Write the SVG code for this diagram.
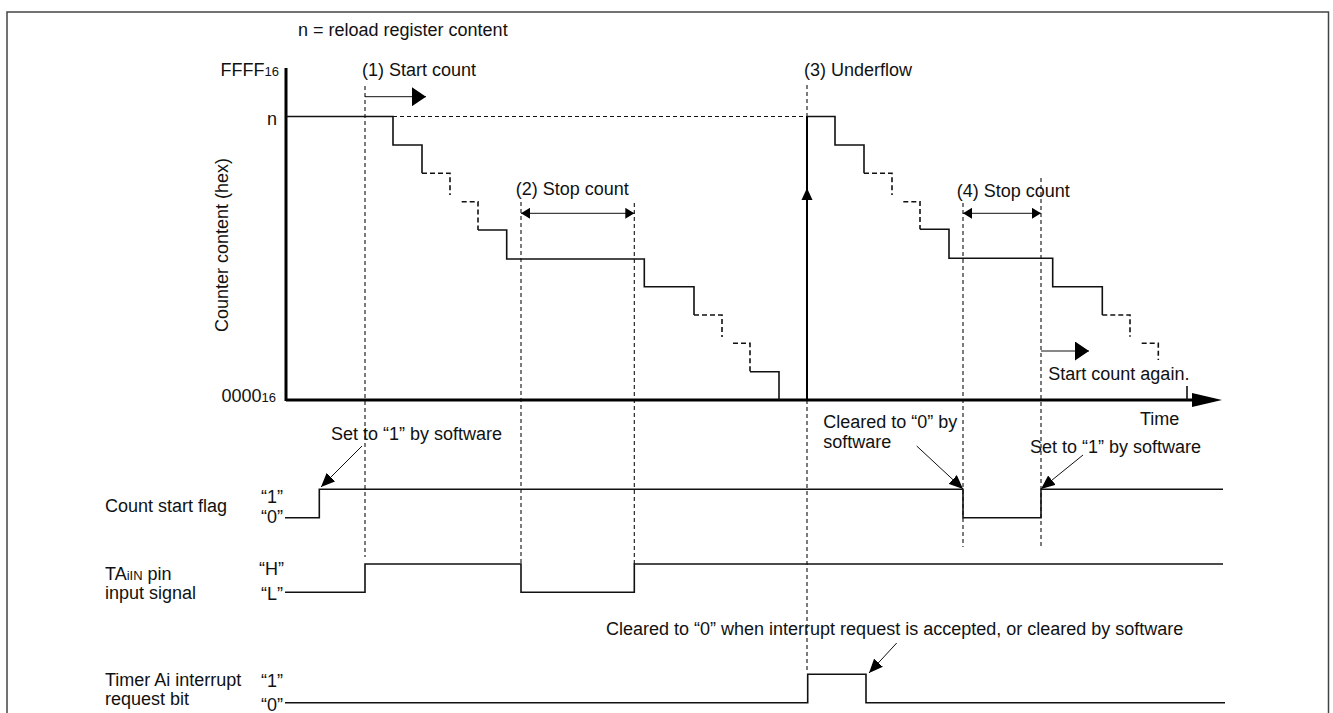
<svg xmlns="http://www.w3.org/2000/svg" width="1333" height="713" viewBox="0 0 1333 713">
<defs>
<style>
text{font-family:"Liberation Sans",Arial,sans-serif;font-size:18px;fill:#111}
.sub{font-size:13px}
.sig{fill:none;stroke:#111;stroke-width:1.6}
.dash{fill:none;stroke:#111;stroke-width:1.1;stroke-dasharray:4,3}
.sd{fill:none;stroke:#111;stroke-width:1.6;stroke-dasharray:5,3}
.thin{fill:none;stroke:#111;stroke-width:1}
.axis{fill:none;stroke:#000;stroke-width:3}
</style>
<marker id="ah" markerUnits="userSpaceOnUse" markerWidth="15" markerHeight="12" refX="14" refY="6" orient="auto">
<path d="M0,0 L14,6 L0,12 z" fill="#000"/>
</marker>
<marker id="big" markerUnits="userSpaceOnUse" markerWidth="15" markerHeight="19" refX="14" refY="9.5" orient="auto">
<path d="M0,0 L14,9.5 L0,19 z" fill="#000"/>
</marker>
<marker id="dh" markerUnits="userSpaceOnUse" markerWidth="10" markerHeight="11" refX="9" refY="5.5" orient="auto-start-reverse">
<path d="M0,0 L9,5.5 L0,11 z" fill="#000"/>
</marker>
</defs>
<rect x="7" y="12" width="1321.5" height="720" fill="#fff" stroke="#444" stroke-width="1.5"/>

<g id="guides">
<line class="dash" x1="365" y1="86" x2="365" y2="557"/>
<line class="dash" x1="521" y1="202" x2="521" y2="564"/>
<line class="dash" x1="634.3" y1="203" x2="634.3" y2="564"/>
<line class="dash" x1="807" y1="85" x2="807" y2="673"/>
<line class="dash" x1="963" y1="203" x2="963" y2="547"/>
<line class="dash" x1="1041" y1="178" x2="1041" y2="547"/>
<line class="dash" x1="393" y1="116.5" x2="807" y2="116.5"/>
</g>

<g id="axes">
<line class="axis" x1="286" y1="68" x2="286" y2="401"/>
<line class="axis" x1="286" y1="400" x2="1193" y2="400"/>
<polygon points="1192,393 1222,400 1192,407" fill="#000"/>
</g>

<g id="counter">
<path class="sig" d="M286,116.5 H393 V145 H422 V173.3"/>
<path class="sd" d="M422,173.3 H450 V195"/>
<path class="sd" d="M461.7,201.7 H478 V230"/>
<path class="sig" d="M478,230 H506.7 V259 H644.3 V286.7 H694 V315"/>
<path class="sd" d="M694,315 H722 V337"/>
<path class="sd" d="M733,343.3 H750 V371.7"/>
<path class="sig" d="M750,371.7 H779 V400"/>
<line x1="807" y1="400" x2="807" y2="116.5" stroke="#000" stroke-width="2"/>
<polygon points="807,188 801.5,200 812.5,200" fill="#000"/>
<path class="sig" d="M807,116.5 H835 V145 H864 V173.3"/>
<path class="sd" d="M864,173.3 H892 V195"/>
<path class="sd" d="M903.3,201.7 H920 V229.3"/>
<path class="sig" d="M920,229.3 H949 V258.3 H1052.7 V286.7 H1102.3 V315"/>
<path class="sd" d="M1102.3,315 H1130 V336.7"/>
<path class="sd" d="M1141.7,343.3 H1158.3 V360"/>
<line class="sig" x1="1187" y1="386" x2="1187" y2="400"/>
</g>

<g id="signals">
<path id="count-start-flag" class="sig" d="M285,517.7 H319.3 V489.3 H963 V517.7 H1041 V489.3 H1223"/>
<path id="taiin" class="sig" d="M285,592.3 H365 V564 H521 V592.3 H634.3 V564 H1223"/>
<path id="timer-irq" class="sig" d="M285,702.7 H807.7 V674.3 H866 V702.7 H1225"/>
</g>

<g id="connectors">
<line class="thin" x1="365" y1="96.7" x2="426" y2="96.7" stroke-width="2" marker-end="url(#big)"/>
<line class="thin" x1="1041" y1="351" x2="1089" y2="351" stroke-width="2" marker-end="url(#big)"/>
<line class="thin" x1="521" y1="213.3" x2="634.3" y2="213.3" stroke="#444" marker-start="url(#dh)" marker-end="url(#dh)"/>
<line class="thin" x1="963" y1="213.3" x2="1041" y2="213.3" stroke="#444" marker-start="url(#dh)" marker-end="url(#dh)"/>
<line class="thin" x1="362" y1="446" x2="321" y2="487" marker-end="url(#ah)"/>
<line class="thin" x1="916.7" y1="446" x2="963" y2="489" marker-end="url(#ah)"/>
<line class="thin" x1="1083" y1="455" x2="1041" y2="489" marker-end="url(#ah)"/>
<line class="thin" x1="896.7" y1="643" x2="869" y2="673" marker-end="url(#ah)"/>
</g>

<g id="labels">
<text x="298" y="36">n = reload register content</text>
<text x="279" y="76" text-anchor="end">FFFF<tspan class="sub">16</tspan></text>
<text x="277" y="125" text-anchor="end">n</text>
<text x="276" y="402" text-anchor="end">0000<tspan class="sub">16</tspan></text>
<text transform="translate(228,245) rotate(-90)" text-anchor="middle">Counter content (hex)</text>
<text x="362" y="76">(1) Start count</text>
<text x="515.7" y="195">(2) Stop count</text>
<text x="804" y="76">(3) Underflow</text>
<text x="956.7" y="196.7">(4) Stop count</text>
<text x="1048.3" y="380">Start count again.</text>
<text x="1140" y="425">Time</text>
<text x="331" y="440">Set to “1” by software</text>
<text x="823.3" y="428">Cleared to “0” by</text>
<text x="823.3" y="448.3">software</text>
<text x="1030" y="453.3">Set to “1” by software</text>
<text x="606" y="635">Cleared to “0” when interrupt request is accepted, or cleared by software</text>
<text x="105" y="511.7">Count start flag</text>
<text x="105" y="580">TA<tspan class="sub">iIN</tspan> pin</text>
<text x="105" y="599.3">input signal</text>
<text x="105" y="686">Timer Ai interrupt</text>
<text x="105" y="705">request bit</text>
<text x="261" y="503">“1”</text>
<text x="261" y="523">“0”</text>
<text x="259" y="575">“H”</text>
<text x="261" y="600">“L”</text>
<text x="261" y="686.7">“1”</text>
<text x="261" y="710.7">“0”</text>
</g>
</svg>
